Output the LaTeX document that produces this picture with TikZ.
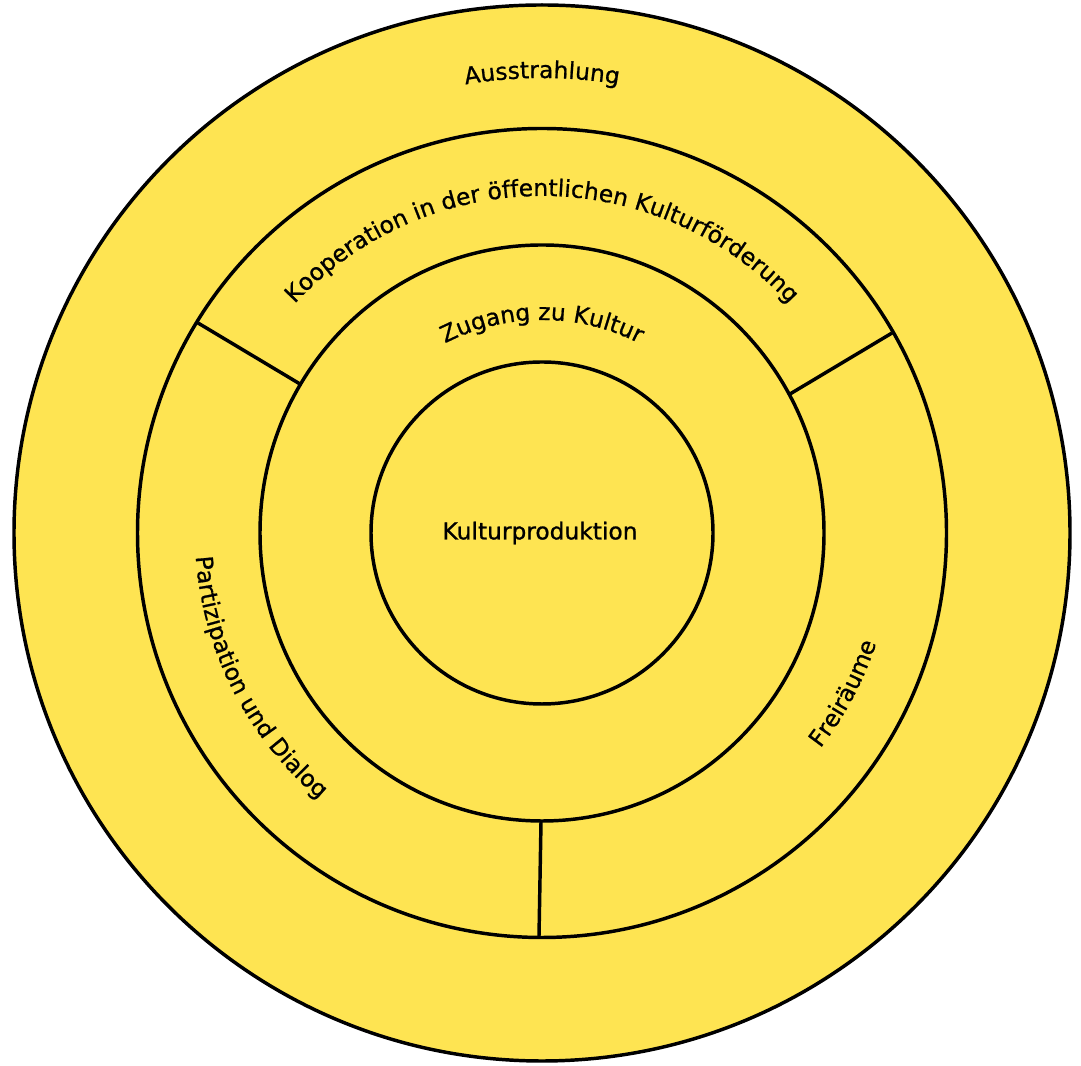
\documentclass[tikz,border=0pt]{standalone}
\usepackage{fontspec}
\setmainfont{DejaVu Sans}
\newfontfamily\lblfam{DejaVu Sans}[FakeBold=0.8]
\usetikzlibrary{decorations.text,calc}
\definecolor{ringyellow}{RGB}{254,228,82}
\newcommand\lblfont{\lblfam\fontsize{17.5}{21}\selectfont}
\begin{document}
\begin{tikzpicture}[x=0.75pt,y=0.75pt,
  ring/.style={draw=black,line width=2.6pt},
  divider/.style={draw=black,line width=2.6pt}]
\useasboundingbox (0,0) rectangle (1081,1066);
\coordinate (C) at (542,533);
% rings
\fill[ringyellow] (C) circle[radius=528];
\draw[ring] (C) circle[radius=528];
\draw[ring] (C) circle[radius=404.5];
\draw[ring] (C) ellipse[x radius=282,y radius=288];
\draw[ring] (C) circle[radius=171];
% dividers
\coordinate (d1o) at (198,743); \coordinate (d1i) at (300,682);
\coordinate (d2o) at (892,733); \coordinate (d2i) at (790,672);
\coordinate (d3i) at (541,244); \coordinate (d3o) at (539,130);
\draw[divider] (d1o) -- (d1i);
\draw[divider] (d2o) -- (d2i);
\draw[divider] (d3i) -- (d3o);
% labels
\node[font=\lblfont] (core) at (540,533) {Kulturproduktion};
\path[decorate,decoration={text along path,text align=center,text={|\lblfont|Ausstrahlung}}]
  ($(C)+(125:455)$) arc[start angle=125,end angle=55,radius=455];
\path[decorate,decoration={text along path,text align=center,text={|\lblfont|Kooperation in der öffentlichen Kulturförderung}}]
  ($(C)+(160:337)$) arc[start angle=160,end angle=20,radius=337];
\path[decorate,decoration={text along path,text align=center,text={|\lblfont|Zugang zu Kultur}}]
  ($(C)+(140:213)$) arc[start angle=140,end angle=40,radius=213];
\path[decorate,decoration={text along path,text align=center,text={|\lblfont|Partizipation und Dialog}}]
  ($(C)+(167:347)$) arc[start angle=167,end angle=247,radius=347];
\path[decorate,decoration={text along path,text align=center,text={|\lblfont|Freiräume}}]
  ($(C)+(-63:352)$) arc[start angle=-63,end angle=7,radius=352];
\end{tikzpicture}
\end{document}
